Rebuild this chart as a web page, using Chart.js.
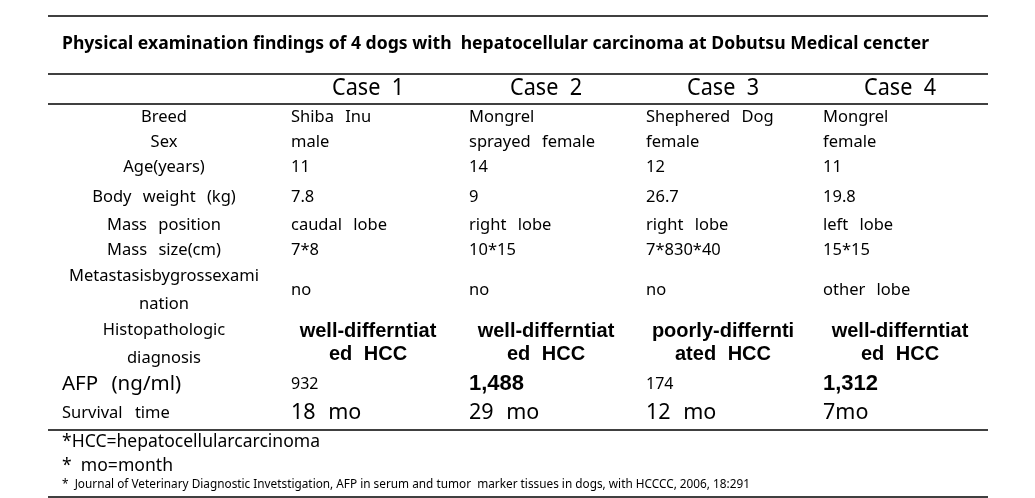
<!DOCTYPE html>
<html>
<head>
<meta charset="utf-8">
<script src="https://cdn.jsdelivr.net/npm/chart.js@4/dist/chart.umd.min.js"></script>
<style>
  html, body { margin: 0; padding: 0; background: #ffffff; }
  #wrap { width: 1035px; height: 498px; position: relative; }
</style>
</head>
<body>
<div id="wrap"><canvas id="c"></canvas></div>
<script>
// ---------- DATA ----------
const title = "Physical examination findings of 4 dogs with  hepatocellular carcinoma at Dobutsu Medical cencter";
const caseHeaders = ["Case 1", "Case 2", "Case 3", "Case 4"];
const rowLabels = ["Breed", "Sex", "Age(years)", "Body weight (kg)", "Mass position", "Mass size(cm)",
  "Metastasisbygrossexami\nnation", "Histopathologic\ndiagnosis", "AFP (ng/ml)", "Survival time"];
const case1 = ["Shiba Inu", "male", "11", "7.8", "caudal lobe", "7*8", "no", "well-differntiat\ned HCC", "932", "18 mo"];
const case2 = ["Mongrel", "sprayed female", "14", "9", "right lobe", "10*15", "no", "well-differntiat\ned HCC", "1,488", "29 mo"];
const case3 = ["Shephered Dog", "female", "12", "26.7", "right lobe", "7*830*40", "no", "poorly-differnti\nated HCC", "174", "12 mo"];
const case4 = ["Mongrel", "female", "11", "19.8", "left lobe", "15*15", "other lobe", "well-differntiat\ned HCC", "1,312", "7mo"];
const footnotes = [
  "*HCC=hepatocellularcarcinoma",
  "*  mo=month",
  "*  Journal of Veterinary Diagnostic Invetstigation, AFP in serum and tumor  marker tissues in dogs, with HCCCC, 2006, 18:291"
];
const cases = [case1, case2, case3, case4];

// ---------- LAYOUT (positions / styles) ----------
const W = 1035, H = 498;
const ruleX = [48, 988];
const ruleY = [16, 74, 104, 430, 497];
const labelCenterX = 164;
const labelLeftX = 62;
const colLeft = [291, 469, 646, 823];
const colCenter = [368, 546, 723, 900];
const rowY = [117, 142, 167, 197, 225, 250, 290, 344, 384, 413];
const BODY = "16.5px 'Noto Sans'";
const rowStyle = [
  {}, {}, {}, {}, {}, {},
  { labelLines: [276, 304] },
  { labelLines: [330, 358], valueLines: [331, 354], valueFont: "bold 20px 'Liberation Sans'", valueAlign: "center" },
  { labelFont: "20.5px 'Noto Sans'", labelAlign: "left", valueFonts: ["16px 'Noto Sans'", "bold 22px 'Liberation Sans'", "16px 'Noto Sans'", "bold 22px 'Liberation Sans'"] },
  { labelFont: "16.5px 'Noto Sans'", labelAlign: "left", valueFont: "21.5px 'Noto Sans'" }
];

function drawText(ctx, s, x, y, font, align, opt) {
  opt = opt || {};
  ctx.save();
  ctx.font = font;
  ctx.fillStyle = "#000";
  ctx.textBaseline = "middle";
  try { ctx.wordSpacing = (opt.ws != null ? opt.ws : 0) + "px"; } catch (e) {}
  if (opt.fitW) {
    ctx.textAlign = "left";
    const w = ctx.measureText(s).width;
    const k = opt.fitW / w;
    let x0 = align === "center" ? x - opt.fitW / 2 : x;
    ctx.translate(x0, y);
    ctx.scale(k, 1);
    ctx.fillText(s, 0, 0);
  } else {
    ctx.textAlign = align;
    ctx.fillText(s, x, y);
  }
  ctx.restore();
}

const tablePlugin = {
  id: "tablePlugin",
  afterDraw(chart) {
    const ctx = chart.ctx;
    const sx = chart.scales.x, sy = chart.scales.y;
    const px = v => sx.getPixelForValue(v);
    const py = v => sy.getPixelForValue(v);

    // rules
    ctx.save();
    ctx.strokeStyle = "#000";
    ctx.lineWidth = 1.3;
    ruleY.forEach(y => {
      ctx.beginPath();
      ctx.moveTo(px(ruleX[0]), py(y));
      ctx.lineTo(px(ruleX[1]), py(y));
      ctx.stroke();
    });
    ctx.restore();

    // title
    drawText(ctx, title, px(62), py(44), "bold 17.5px 'Noto Sans'", "left", { fitW: 867 });
    // headers
    caseHeaders.forEach((h, i) => drawText(ctx, h, px(colCenter[i]), py(88), "23px 'Noto Sans'", "center", { fitW: 72, ws: 6 }));

    // rows
    rowLabels.forEach((lab, r) => {
      const st = rowStyle[r];
      const lf = st.labelFont || BODY;
      const lines = lab.split("\n");
      if (st.labelAlign === "left") {
        drawText(ctx, lab, px(labelLeftX), py(rowY[r]), lf, "left", { ws: 8 });
      } else if (lines.length > 1) {
        lines.forEach((ln, j) => drawText(ctx, ln, px(labelCenterX), py(st.labelLines[j]), lf, "center", { ws: 8 }));
      } else {
        drawText(ctx, lab, px(labelCenterX), py(rowY[r]), lf, "center", { ws: 7 });
      }
      cases.forEach((cs, c) => {
        const v = cs[r];
        const vf = st.valueFonts ? st.valueFonts[c] : (st.valueFont || BODY);
        if (st.valueLines) {
          v.split("\n").forEach((ln, j) => drawText(ctx, ln, px(colCenter[c]), py(st.valueLines[j]), vf, "center", { ws: 6 }));
        } else {
          drawText(ctx, v, px(colLeft[c]), py(rowY[r]), vf, "left", { ws: 7 });
        }
      });
    });

    // footnotes
    drawText(ctx, footnotes[0], px(62), py(442), "18px 'Noto Sans'", "left", { fitW: 258 });
    drawText(ctx, footnotes[1], px(62), py(466), "18px 'Noto Sans'", "left", { fitW: 111 });
    drawText(ctx, footnotes[2], px(62), py(485), "12px 'Noto Sans'", "left", { fitW: 688 });
  }
};

new Chart(document.getElementById("c"), {
  type: "scatter",
  data: { datasets: [{ data: [], pointRadius: 0 }] },
  options: {
    responsive: true,
    maintainAspectRatio: false,
    animation: false,
    devicePixelRatio: 1,
    layout: { padding: 0 },
    plugins: { legend: { display: false }, tooltip: { enabled: false } },
    scales: {
      x: { type: "linear", min: 0, max: W, display: false },
      y: { type: "linear", min: 0, max: H, reverse: true, display: false }
    }
  },
  plugins: [tablePlugin]
});
</script>
</body>
</html>
